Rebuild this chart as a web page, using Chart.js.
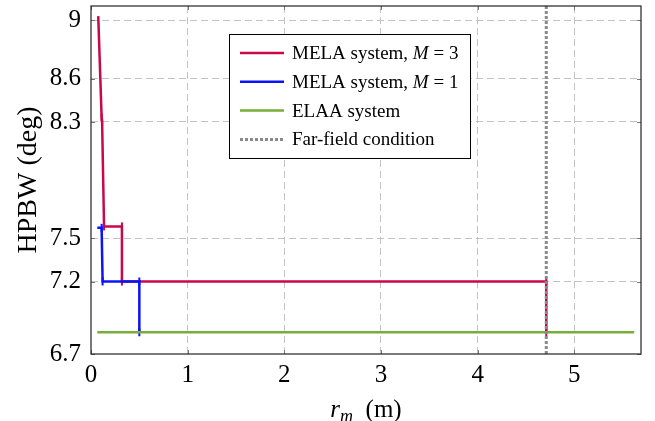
<!DOCTYPE html>
<html>
<head>
<meta charset="utf-8">
<script src="https://cdn.jsdelivr.net/npm/chart.js@4.4.1/dist/chart.umd.min.js"></script>
<style>
  html, body { margin: 0; padding: 0; background: #fff; }
</style>
</head>
<body>
<canvas id="chart" width="655" height="421"></canvas>
<script>
// axis ticks
const xTicks = [0, 1, 2, 3, 4, 5];
const yTicks = [6.7, 7.2, 7.5, 8.3, 8.6, 9];

// series (r_m in metres, HPBW in degrees)
const melaM3X = [0.075, 0.11, 0.115, 0.135, 0.32, 0.32, 4.71, 4.71];
const melaM3Y = [9.03, 8.33, 8.3, 7.58, 7.58, 7.2, 7.2, 6.85];
const melaM1X = [0.065, 0.11, 0.12, 0.5, 0.5];
const melaM1Y = [7.57, 7.57, 7.2, 7.2, 6.85];
const elaaX = [0.065, 5.62];
const elaaY = [6.85, 6.85];
const farFieldX = [4.71, 4.71];
const farFieldY = [6.7, 9.1];

// $...$ marks the italic part
const legendLabels = ['MELA system, $M$ = 3', 'MELA system, $M$ = 1', 'ELAA system', 'Far-field condition'];

const SERIF = "'Liberation Serif', 'Times New Roman', serif";

const toPoints = (xs, ys) => xs.map((x, i) => ({ x: x, y: ys[i] }));

// frame, inner tick marks, legend and x title
const decorPlugin = {
  id: 'decor',
  afterDatasetsDraw(chart) {
    const ctx = chart.ctx;
    const a = chart.chartArea;
    const xs = chart.scales.x, ys = chart.scales.y;

    ctx.save();
    // small tick marks on all four sides
    ctx.strokeStyle = '#777';
    ctx.lineWidth = 1;
    ctx.beginPath();
    xTicks.forEach(v => {
      const px = Math.round(xs.getPixelForValue(v)) + 0.5;
      ctx.moveTo(px, a.bottom); ctx.lineTo(px, a.bottom - 4);
      ctx.moveTo(px, a.top); ctx.lineTo(px, a.top + 4);
    });
    yTicks.forEach(v => {
      const py = Math.round(ys.getPixelForValue(v)) + 0.5;
      ctx.moveTo(a.left, py); ctx.lineTo(a.left + 4, py);
      ctx.moveTo(a.right, py); ctx.lineTo(a.right - 4, py);
    });
    ctx.stroke();

    // frame
    ctx.strokeStyle = '#222';
    ctx.lineWidth = 1.2;
    ctx.strokeRect(a.left, a.top, a.right - a.left, a.bottom - a.top);

    // legend
    const lx = a.left + 138, ly = a.top + 28, lw = 241, lh = 124;
    ctx.fillStyle = '#fff';
    ctx.fillRect(lx, ly, lw, lh);
    ctx.strokeStyle = '#000';
    ctx.lineWidth = 1;
    ctx.strokeRect(lx + 0.5, ly + 0.5, lw, lh);
    chart.data.datasets.forEach((ds, i) => {
      const cy = ly + 19 + i * 28.8;
      ctx.save();
      ctx.strokeStyle = ds.borderColor;
      ctx.lineWidth = ds.borderWidth;
      ctx.setLineDash(ds.borderDash || []);
      ctx.beginPath();
      ctx.moveTo(lx + 11, cy);
      ctx.lineTo(lx + 55, cy);
      ctx.stroke();
      ctx.restore();

      let tx = lx + 63;
      ctx.fillStyle = '#000';
      ctx.textBaseline = 'middle';
      legendLabels[i].split('$').forEach((part, k) => {
        ctx.font = (k % 2 ? 'italic ' : '') + '19px ' + SERIF;
        ctx.fillText(part, tx, cy + 1);
        tx += ctx.measureText(part).width;
      });
    });

    // x axis title: r_m (m)
    const cx = (a.left + a.right) / 2;
    const base = 417;
    ctx.textBaseline = 'alphabetic';
    ctx.font = 'italic 25px ' + SERIF;
    const w1 = ctx.measureText('r').width;
    ctx.font = 'italic 18px ' + SERIF;
    const w2 = ctx.measureText('m').width;
    ctx.font = '25px ' + SERIF;
    const w3 = ctx.measureText('  (m)').width;
    let tx = cx - (w1 + w2 + w3) / 2;
    ctx.font = 'italic 25px ' + SERIF;
    ctx.fillText('r', tx, base);
    tx += w1;
    ctx.font = 'italic 18px ' + SERIF;
    ctx.fillText('m', tx, base + 5);
    tx += w2;
    ctx.font = '25px ' + SERIF;
    ctx.fillText('  (m)', tx, base);
    ctx.restore();
  }
};

const gridColor = ctx => (ctx.tick && (ctx.tick.value === 0 || ctx.tick.value === 6.7)) ? 'rgba(0,0,0,0)' : '#c2c2c2';
const skipFirst = ctx => (ctx.dataIndex === 0 ? 0 : 4);

new Chart(document.getElementById('chart'), {
  type: 'line',
  data: {
    datasets: [
      {
        label: legendLabels[0].replace(/\$/g, ''),
        data: toPoints(melaM3X, melaM3Y),
        borderColor: '#c8084a',
        backgroundColor: '#c8084a',
        borderWidth: 2.5,
        pointStyle: 'line',
        rotation: 90,
        pointRadius: skipFirst,
        pointBorderWidth: 2,
        order: 4
      },
      {
        label: legendLabels[1].replace(/\$/g, ''),
        data: toPoints(melaM1X, melaM1Y),
        borderColor: '#0a14f5',
        backgroundColor: '#0a14f5',
        borderWidth: 2.5,
        pointStyle: 'line',
        rotation: 90,
        pointRadius: skipFirst,
        pointBorderWidth: 2,
        order: 3
      },
      {
        label: legendLabels[2],
        data: toPoints(elaaX, elaaY),
        borderColor: '#77ad38',
        backgroundColor: '#77ad38',
        borderWidth: 2.5,
        pointRadius: 0,
        order: 2
      },
      {
        label: legendLabels[3],
        data: toPoints(farFieldX, farFieldY),
        borderColor: '#8a8a8a',
        backgroundColor: '#8a8a8a',
        borderWidth: 3,
        borderDash: [3, 2],
        borderCapStyle: 'butt',
        pointRadius: 0,
        order: 1
      }
    ]
  },
  options: {
    responsive: false,
    animation: false,
    devicePixelRatio: 1,
    events: [],
    layout: { padding: { top: 6, right: 14, left: 0, bottom: 0 } },
    elements: { line: { tension: 0, fill: false } },
    plugins: {
      legend: { display: false },
      tooltip: { enabled: false }
    },
    scales: {
      x: {
        type: 'linear',
        min: 0,
        max: 5.69,
        afterBuildTicks: s => { s.ticks = xTicks.map(v => ({ value: v })); },
        afterFit: s => { s.height = 67; s.paddingLeft = 0; s.paddingRight = 0; },
        ticks: {
          color: '#000',
          font: { family: SERIF, size: 25 },
          padding: 6,
          maxRotation: 0,
          callback: v => String(v)
        },
        grid: { color: gridColor, lineWidth: 1, drawTicks: false },
        border: { display: false, dash: [7, 4] }
      },
      y: {
        type: 'linear',
        min: 6.7,
        max: 9.1,
        afterBuildTicks: s => { s.ticks = yTicks.map(v => ({ value: v })); },
        afterFit: s => { s.width = 91; s.paddingTop = 0; s.paddingBottom = 0; },
        ticks: {
          color: '#000',
          font: { family: SERIF, size: 25 },
          padding: 10,
          callback: v => String(v)
        },
        grid: { color: gridColor, lineWidth: 1, drawTicks: false },
        border: { display: false, dash: [7, 4] },
        title: {
          display: true,
          text: 'HPBW (deg)',
          color: '#000',
          font: { family: SERIF, size: 28 },
          padding: { top: 12, bottom: 0 }
        }
      }
    }
  },
  plugins: [decorPlugin]
});
</script>
</body>
</html>
